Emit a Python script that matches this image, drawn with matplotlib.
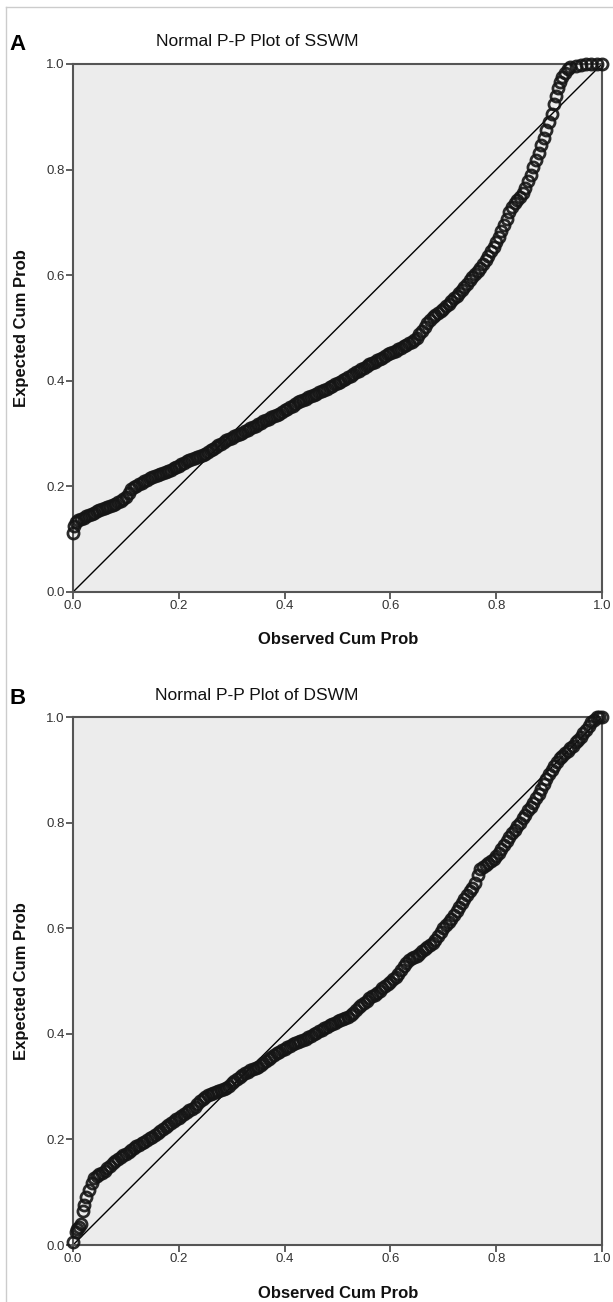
import matplotlib
matplotlib.use("Agg")
import matplotlib.pyplot as plt
from matplotlib.lines import Line2D

plt.rcParams['font.family'] = ['Liberation Sans', 'DejaVu Sans']

# Panel A - SSWM (observed cum prob, expected cum prob)
sswm_obs = [0.000, 0.002, 0.005, 0.010, 0.015, 0.020, 0.025, 0.030, 0.035, 0.040, 0.045, 0.050,
            0.055, 0.060, 0.065, 0.070, 0.075, 0.080, 0.085, 0.090, 0.095, 0.100, 0.105, 0.110,
            0.115, 0.120, 0.125, 0.130, 0.135, 0.140, 0.145, 0.150, 0.155, 0.160, 0.165, 0.170,
            0.175, 0.180, 0.185, 0.190, 0.195, 0.200, 0.205, 0.210, 0.215, 0.220, 0.225, 0.230,
            0.235, 0.240, 0.245, 0.250, 0.255, 0.260, 0.265, 0.270, 0.275, 0.280, 0.285, 0.290,
            0.295, 0.300, 0.305, 0.310, 0.315, 0.320, 0.325, 0.330, 0.335, 0.340, 0.345, 0.350,
            0.355, 0.360, 0.365, 0.370, 0.375, 0.380, 0.385, 0.390, 0.395, 0.400, 0.405, 0.410,
            0.415, 0.420, 0.425, 0.430, 0.435, 0.440, 0.445, 0.450, 0.455, 0.460, 0.465, 0.470,
            0.475, 0.480, 0.485, 0.490, 0.495, 0.500, 0.505, 0.510, 0.515, 0.520, 0.525, 0.530,
            0.535, 0.540, 0.545, 0.550, 0.555, 0.560, 0.565, 0.570, 0.575, 0.580, 0.585, 0.590,
            0.595, 0.600, 0.605, 0.610, 0.615, 0.620, 0.625, 0.630, 0.635, 0.640, 0.645, 0.650,
            0.655, 0.660, 0.665, 0.670, 0.675, 0.680, 0.685, 0.690, 0.695, 0.700, 0.705, 0.710,
            0.715, 0.720, 0.725, 0.730, 0.735, 0.740, 0.745, 0.750, 0.755, 0.760, 0.765, 0.770,
            0.775, 0.780, 0.785, 0.790, 0.795, 0.800, 0.805, 0.810, 0.815, 0.820, 0.825, 0.830,
            0.835, 0.840, 0.845, 0.850, 0.855, 0.860, 0.865, 0.870, 0.875, 0.880, 0.885, 0.890,
            0.895, 0.900, 0.905, 0.910, 0.913, 0.917, 0.920, 0.925, 0.930, 0.935, 0.940, 0.950,
            0.960, 0.970, 0.980, 0.990, 1.000]
sswm_exp = [0.112, 0.125, 0.132, 0.136, 0.139, 0.141, 0.144, 0.146, 0.148, 0.150, 0.153, 0.155,
            0.157, 0.159, 0.161, 0.163, 0.165, 0.167, 0.170, 0.172, 0.176, 0.180, 0.188, 0.195,
            0.198, 0.201, 0.204, 0.207, 0.210, 0.212, 0.215, 0.217, 0.220, 0.222, 0.224, 0.226,
            0.228, 0.230, 0.232, 0.234, 0.236, 0.239, 0.242, 0.245, 0.248, 0.250, 0.252, 0.254,
            0.256, 0.258, 0.260, 0.262, 0.265, 0.268, 0.271, 0.274, 0.278, 0.281, 0.284, 0.287,
            0.290, 0.292, 0.295, 0.297, 0.300, 0.302, 0.305, 0.307, 0.310, 0.312, 0.315, 0.318,
            0.321, 0.323, 0.326, 0.328, 0.331, 0.333, 0.336, 0.338, 0.341, 0.344, 0.347, 0.350,
            0.353, 0.356, 0.359, 0.361, 0.364, 0.366, 0.369, 0.371, 0.373, 0.375, 0.378, 0.380,
            0.383, 0.385, 0.388, 0.390, 0.393, 0.396, 0.398, 0.401, 0.404, 0.407, 0.410, 0.413,
            0.416, 0.419, 0.422, 0.425, 0.428, 0.431, 0.434, 0.436, 0.439, 0.441, 0.444, 0.447,
            0.450, 0.452, 0.455, 0.457, 0.460, 0.462, 0.465, 0.468, 0.471, 0.474, 0.478, 0.482,
            0.488, 0.494, 0.502, 0.510, 0.515, 0.520, 0.524, 0.528, 0.532, 0.536, 0.541, 0.546,
            0.551, 0.556, 0.561, 0.567, 0.572, 0.578, 0.584, 0.590, 0.596, 0.602, 0.608, 0.614,
            0.621, 0.628, 0.636, 0.645, 0.653, 0.662, 0.673, 0.684, 0.695, 0.706, 0.720, 0.730,
            0.736, 0.742, 0.748, 0.755, 0.765, 0.778, 0.790, 0.805, 0.818, 0.832, 0.846, 0.860,
            0.875, 0.890, 0.905, 0.925, 0.940, 0.955, 0.965, 0.975, 0.983, 0.990, 0.994, 0.997,
            0.999, 1.000, 1.000, 1.000, 1.000]

# Panel B - DSWM
dswm_obs = [0.000, 0.005, 0.008, 0.012, 0.015, 0.018, 0.020, 0.025, 0.030, 0.035, 0.040, 0.045,
            0.050, 0.055, 0.060, 0.065, 0.070, 0.075, 0.080, 0.085, 0.090, 0.095, 0.100, 0.105,
            0.110, 0.115, 0.120, 0.125, 0.130, 0.135, 0.140, 0.145, 0.150, 0.155, 0.160, 0.165,
            0.170, 0.175, 0.180, 0.185, 0.190, 0.195, 0.200, 0.205, 0.210, 0.215, 0.220, 0.225,
            0.230, 0.235, 0.240, 0.245, 0.250, 0.255, 0.260, 0.265, 0.270, 0.275, 0.280, 0.285,
            0.290, 0.295, 0.300, 0.305, 0.310, 0.315, 0.320, 0.325, 0.330, 0.335, 0.340, 0.345,
            0.350, 0.355, 0.360, 0.365, 0.370, 0.375, 0.380, 0.385, 0.390, 0.395, 0.400, 0.405,
            0.410, 0.415, 0.420, 0.425, 0.430, 0.435, 0.440, 0.445, 0.450, 0.455, 0.460, 0.465,
            0.470, 0.475, 0.480, 0.485, 0.490, 0.495, 0.500, 0.505, 0.510, 0.515, 0.520, 0.525,
            0.530, 0.535, 0.540, 0.545, 0.550, 0.555, 0.560, 0.565, 0.570, 0.575, 0.580, 0.585,
            0.590, 0.595, 0.600, 0.605, 0.610, 0.615, 0.620, 0.625, 0.630, 0.635, 0.640, 0.645,
            0.650, 0.655, 0.660, 0.665, 0.670, 0.675, 0.680, 0.685, 0.690, 0.695, 0.700, 0.705,
            0.710, 0.715, 0.720, 0.725, 0.730, 0.735, 0.740, 0.745, 0.750, 0.755, 0.760, 0.765,
            0.770, 0.775, 0.780, 0.785, 0.790, 0.795, 0.800, 0.805, 0.810, 0.815, 0.820, 0.825,
            0.830, 0.835, 0.840, 0.845, 0.850, 0.855, 0.860, 0.865, 0.870, 0.875, 0.880, 0.885,
            0.890, 0.895, 0.900, 0.905, 0.910, 0.915, 0.920, 0.925, 0.930, 0.935, 0.940, 0.945,
            0.950, 0.955, 0.960, 0.965, 0.970, 0.975, 0.980, 0.985, 0.990, 0.995, 1.000]
dswm_exp = [0.005, 0.025, 0.030, 0.035, 0.040, 0.065, 0.075, 0.090, 0.105, 0.118, 0.126, 0.130,
            0.134, 0.137, 0.140, 0.145, 0.150, 0.155, 0.160, 0.163, 0.166, 0.170, 0.173, 0.177,
            0.180, 0.184, 0.187, 0.190, 0.193, 0.196, 0.199, 0.202, 0.205, 0.208, 0.212, 0.216,
            0.220, 0.224, 0.227, 0.231, 0.234, 0.238, 0.241, 0.245, 0.248, 0.252, 0.255, 0.258,
            0.262, 0.267, 0.272, 0.277, 0.281, 0.284, 0.286, 0.288, 0.290, 0.292, 0.293, 0.295,
            0.298, 0.302, 0.306, 0.311, 0.315, 0.319, 0.322, 0.325, 0.328, 0.331, 0.334, 0.336,
            0.338, 0.341, 0.344, 0.348, 0.352, 0.356, 0.360, 0.363, 0.366, 0.369, 0.372, 0.375,
            0.377, 0.380, 0.382, 0.384, 0.386, 0.389, 0.391, 0.394, 0.396, 0.399, 0.402, 0.405,
            0.408, 0.411, 0.413, 0.416, 0.418, 0.421, 0.424, 0.426, 0.428, 0.430, 0.432, 0.436,
            0.440, 0.445, 0.450, 0.455, 0.459, 0.463, 0.467, 0.471, 0.474, 0.478, 0.482, 0.486,
            0.490, 0.494, 0.498, 0.503, 0.508, 0.514, 0.520, 0.528, 0.535, 0.540, 0.543, 0.546,
            0.548, 0.552, 0.556, 0.560, 0.564, 0.568, 0.572, 0.578, 0.585, 0.592, 0.600, 0.606,
            0.612, 0.618, 0.625, 0.632, 0.640, 0.647, 0.655, 0.662, 0.670, 0.677, 0.685, 0.700,
            0.712, 0.716, 0.720, 0.724, 0.728, 0.732, 0.737, 0.743, 0.750, 0.757, 0.765, 0.772,
            0.780, 0.786, 0.793, 0.800, 0.808, 0.815, 0.823, 0.830, 0.838, 0.846, 0.855, 0.864,
            0.873, 0.882, 0.892, 0.900, 0.908, 0.915, 0.922, 0.927, 0.932, 0.936, 0.941, 0.946,
            0.952, 0.957, 0.963, 0.970, 0.976, 0.983, 0.990, 0.995, 1.000, 1.000, 1.000]

ticks = [0.0, 0.2, 0.4, 0.6, 0.8, 1.0]
tick_labels = ["0.0", "0.2", "0.4", "0.6", "0.8", "1.0"]

fig = plt.figure(figsize=(6.13, 13.02), dpi=100)
fig.patch.set_facecolor("white")

# thin frame line left/top like the source figure
fig.add_artist(Line2D([6/613, 6/613], [0, 1 - 7/1302], transform=fig.transFigure, color="#cccccc", lw=1))
fig.add_artist(Line2D([6/613, 1], [1 - 7/1302, 1 - 7/1302], transform=fig.transFigure, color="#cccccc", lw=1))

panels = [
    ("A", "Normal P-P Plot of SSWM", sswm_obs, sswm_exp, 592),
    ("B", "Normal P-P Plot of DSWM", dswm_obs, dswm_exp, 1245),
]

for letter, title, obs, exp, bottom_px in panels:
    ax = fig.add_axes([73/613, 1 - bottom_px/1302, 529/613, 528/1302])
    ax.set_facecolor("#ececec")
    ax.plot([0, 1], [0, 1], color="black", lw=1.0, zorder=2)
    ax.plot(obs, exp, linestyle="none", marker="o", markersize=8,
            markerfacecolor="none", markeredgecolor="#151515", markeredgewidth=2.0,
            alpha=0.9, zorder=3, clip_on=False)
    ax.set_xlim(0, 1)
    ax.set_ylim(0, 1)
    ax.set_xticks(ticks)
    ax.set_xticklabels(tick_labels)
    ax.set_yticks(ticks)
    ax.set_yticklabels(tick_labels)
    ax.tick_params(direction="out", length=5, width=1.2, color="#444444",
                   labelsize=9.5, labelcolor="#333333", pad=1)
    for s in ax.spines.values():
        s.set_color("#555555")
        s.set_linewidth(1.5)

    top_px = bottom_px - 528
    fig.text(257/613, 1 - (top_px - 22)/1302, title, ha="center", va="center",
             fontsize=12.5, color="#111111")
    fig.text(18/613, 1 - (top_px - 19)/1302, letter, ha="center", va="center",
             fontsize=16, fontweight="bold", color="black")
    fig.text(338/613, 1 - (bottom_px + 48)/1302, "Observed Cum Prob", ha="center",
             va="center", fontsize=12, fontweight="bold", color="#111111")
    fig.text(22/613, 1 - (top_px + 264)/1302, "Expected Cum Prob", ha="center",
             va="center", rotation=90, fontsize=12, fontweight="bold", color="#111111")

fig.savefig("out.png", dpi=100)
